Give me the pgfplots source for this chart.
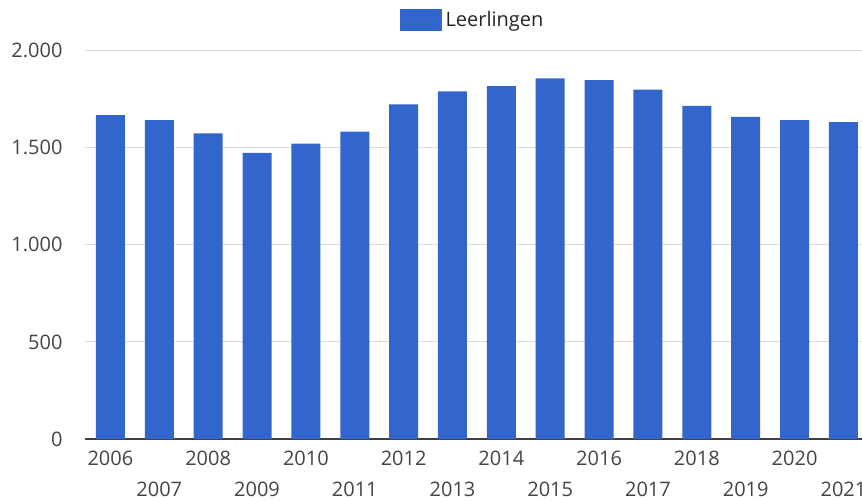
\documentclass[border=0pt]{standalone}
\usepackage{fontspec}
\setmainfont{Open Sans}
\usepackage{pgfplots}
\pgfplotsset{compat=1.18}
\definecolor{barblue}{RGB}{51,102,204}
\definecolor{lbl}{RGB}{68,68,68}
\definecolor{gridc}{RGB}{220,220,220}
\begin{document}
\fontsize{10}{12}\selectfont
\begin{tikzpicture}
\useasboundingbox (-42.5pt,-30.5pt) rectangle (388.5pt,219.5pt);
\begin{axis}[
  at={(0pt,0pt)}, anchor=south west,
  scale only axis, width=388.5pt, height=194.25pt,
  ymin=0, ymax=2000, xmin=-0.52, xmax=15.38,
  ybar, bar width=14.5pt,
  axis line style={draw=none},
  major tick length=0pt,
  ytick={500,1000,1500,2000},
  extra y ticks={0},
  extra y tick style={grid style={black!75, line width=1pt}},
  ymajorgrids, grid style={gridc, line width=0.6pt},
  xtick={0,2,...,14},
  xticklabels={2006,2008,2010,2012,2014,2016,2018,2020},
  extra x ticks={1,3,...,15},
  extra x tick labels={2007,2009,2011,2013,2015,2017,2019,2021},
  extra x tick style={xmajorgrids=false, tick label style={yshift=-15.5pt}},
  x tick label style={yshift=-2.5pt, text=lbl, font=\fontsize{10}{12}\selectfont},
  y tick label style={xshift=-7.7pt, text=lbl, font=\fontsize{10}{12}\selectfont},
  legend style={at={(0.5,1)}, anchor=center, yshift=15.25pt, draw=none, fill=none,
    font=\fontsize{10}{12}\selectfont, text=black!85, inner sep=0pt},
  /pgf/number format/1000 sep={.},
  /pgf/number format/assume math mode=true,
]
\addplot[fill=barblue, draw=none,
  legend image code/.code={\fill[barblue] (0pt,-5.5pt) rectangle (21pt,5.5pt);}]
  coordinates {
  (0,1668) (1,1641) (2,1574) (3,1473) (4,1521) (5,1583) (6,1723) (7,1790)
  (8,1817) (9,1857) (10,1847) (11,1798) (12,1715) (13,1658) (14,1641) (15,1631)
  };
\addlegendentry{Leerlingen}
\end{axis}
\end{tikzpicture}
\end{document}
